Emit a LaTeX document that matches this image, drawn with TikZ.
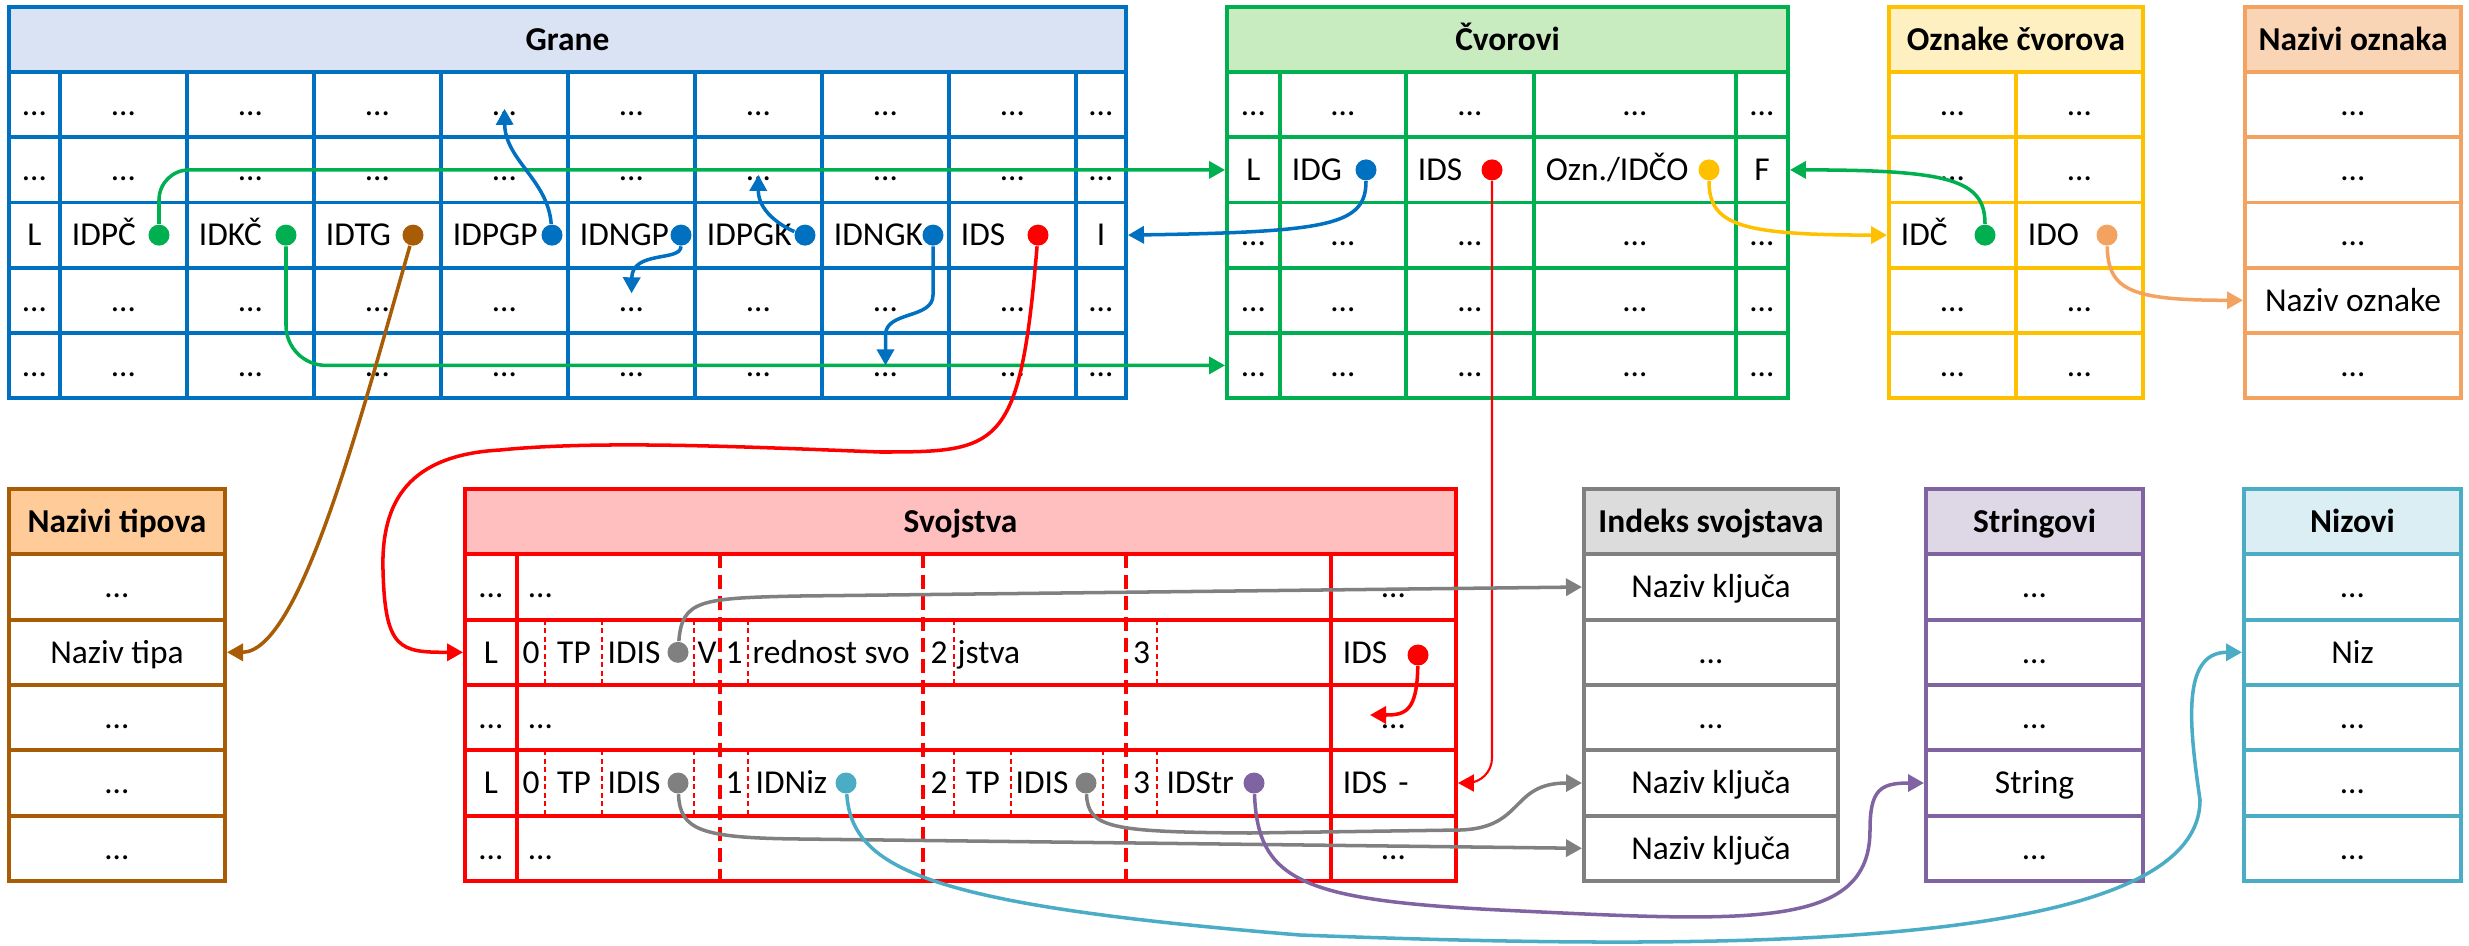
\documentclass[tikz,border=0pt]{standalone}
\usepackage{fontspec}
\setmainfont{Carlito}
\usetikzlibrary{arrows.meta}

\definecolor{gblue}{HTML}{0070C0}
\definecolor{gbluefill}{HTML}{DAE3F3}
\definecolor{cgreen}{HTML}{00B050}
\definecolor{cgreenfill}{HTML}{C8EBC0}
\definecolor{oyellow}{HTML}{FFC000}
\definecolor{oyellowfill}{HTML}{FFF0C2}
\definecolor{norange}{HTML}{F4A25F}
\definecolor{norangefill}{HTML}{FAD5B5}
\definecolor{tbrown}{HTML}{A85C05}
\definecolor{tbrownfill}{HTML}{FFCC99}
\definecolor{sred}{HTML}{FF0000}
\definecolor{sredfill}{HTML}{FFBFBF}
\definecolor{igrey}{HTML}{808080}
\definecolor{igreyfill}{HTML}{DCDCDC}
\definecolor{spurple}{HTML}{8064A2}
\definecolor{spurplefill}{HTML}{DED8E6}
\definecolor{ncyan}{HTML}{4BACC6}
\definecolor{ncyanfill}{HTML}{DBEEF4}
\newcommand{\tabfont}{\fontsize{9.5pt}{11.5pt}\selectfont}

\begin{document}
\begin{tikzpicture}[x=0.01cm,y=-0.01cm,font=\tabfont]
\tikzset{
  cell/.style={draw=#1,line width=1.1pt,minimum height=6.52mm,inner sep=0pt,text height=8.3pt,text depth=2.2pt},
  head/.style={cell=#1,font=\tabfont\bfseries},
  ltxt/.style={text width=#1,align=left},
  idcell/.style={minimum width=12.7mm,ltxt=10.3mm},
  stxt/.style={inner sep=0pt,text height=8.3pt,text depth=2.2pt},
  dot/.style={circle,fill=#1,inner sep=0pt,minimum size=2.1mm},
  link/.style={draw=#1,line width=1pt,-{Triangle[length=1.6mm,width=1.7mm]}},
  longdash/.style={sred,line width=1.1pt,dash pattern=on 1.4mm off 0.7mm},
  shortdash/.style={sred,line width=0.6pt,dash pattern=on 0.5mm off 0.35mm}
}
\useasboundingbox (0,0) rectangle (2469,945);

% Grane
\node[head=gblue,fill=gbluefill,minimum width=111.7mm] (grane) at (567.5,39.6) {Grane};
\foreach \r/\y in {1/104.8,2/169.9,4/300.3,5/365.4}{
  \node[cell=gblue,minimum width=5.1mm] (g\r0) at (34.5,\y) {\dots};
  \foreach \c/\x in {1/123.5,2/250.5,3/377.5,4/504.5,5/631.5,6/758.5,7/885.5,8/1012.5}
    \node[cell=gblue,minimum width=12.7mm] (g\r\c) at (\x,\y) {\dots};
  \node[cell=gblue,minimum width=5mm] (g\r9) at (1101,\y) {\dots};
}
\node[cell=gblue,minimum width=5.1mm] (g30) at (34.5,235.1) {L};
\node[cell=gblue,idcell] (g31) at (123.5,235.1) {IDPČ};
\node[cell=gblue,idcell] (g32) at (250.5,235.1) {IDKČ};
\node[cell=gblue,idcell] (g33) at (377.5,235.1) {IDTG};
\node[cell=gblue,idcell] (g34) at (504.5,235.1) {IDPGP};
\node[cell=gblue,idcell] (g35) at (631.5,235.1) {IDNGP};
\node[cell=gblue,idcell] (g36) at (758.5,235.1) {IDPGK};
\node[cell=gblue,idcell] (g37) at (885.5,235.1) {IDNGK};
\node[cell=gblue,idcell] (g38) at (1012.5,235.1) {IDS};
\node[cell=gblue,minimum width=5mm] (g39) at (1101,235.1) {I};

% Cvorovi
\node[head=cgreen,fill=cgreenfill,minimum width=56.1mm] (cvorovi) at (1507.5,39.6) {Čvorovi};
\foreach \r/\y in {1/104.8,3/235.1,4/300.3,5/365.4}{
  \node[cell=cgreen,minimum width=5.3mm] (c\r0) at (1253.5,\y) {\dots};
  \node[cell=cgreen,minimum width=12.6mm] (c\r1) at (1343,\y) {\dots};
  \node[cell=cgreen,minimum width=12.8mm] (c\r2) at (1470,\y) {\dots};
  \node[cell=cgreen,minimum width=20.2mm] (c\r3) at (1635,\y) {\dots};
  \node[cell=cgreen,minimum width=5.2mm] (c\r4) at (1762,\y) {\dots};
}
\node[cell=cgreen,minimum width=5.3mm] (c20) at (1253.5,169.9) {L};
\node[cell=cgreen,minimum width=12.6mm,ltxt=10.2mm] (c21) at (1343,169.9) {IDG};
\node[cell=cgreen,minimum width=12.8mm,ltxt=10.4mm] (c22) at (1470,169.9) {IDS};
\node[cell=cgreen,minimum width=20.2mm,ltxt=17.8mm] (c23) at (1635,169.9) {Ozn./IDČO};
\node[cell=cgreen,minimum width=5.2mm] (c24) at (1762,169.9) {F};

% Oznake cvorova
\node[head=oyellow,fill=oyellowfill,minimum width=25.4mm] (oznake) at (2016,39.6) {Oznake čvorova};
\foreach \r/\y in {1/104.8,2/169.9,4/300.3,5/365.4}{
  \node[cell=oyellow,minimum width=12.7mm] (o\r0) at (1952.5,\y) {\dots};
  \node[cell=oyellow,minimum width=12.7mm] (o\r1) at (2079.5,\y) {\dots};
}
\node[cell=oyellow,idcell] (o30) at (1952.5,235.1) {IDČ};
\node[cell=oyellow,idcell] (o31) at (2079.5,235.1) {IDO};

% Nazivi oznaka
\node[head=norange,fill=norangefill,minimum width=21.6mm] (nazivioz) at (2353,39.6) {Nazivi oznaka};
\foreach \r/\y/\t in {1/104.8/\dots,2/169.9/\dots,3/235.1/\dots,4/300.3/Naziv oznake,5/365.4/\dots}
  \node[cell=norange,minimum width=21.6mm] (no\r) at (2353,\y) {\t};

% Nazivi tipova
\node[head=tbrown,fill=tbrownfill,minimum width=21.6mm] (nazivitip) at (117,521.7) {Nazivi tipova};
\foreach \r/\y/\t in {1/587/\dots,2/652.3/Naziv tipa,3/717.7/\dots,4/783/\dots,5/848.3/\dots}
  \node[cell=tbrown,minimum width=21.6mm] (nt\r) at (117,\y) {\t};

% Svojstva
\node[head=sred,fill=sredfill,minimum width=99.1mm] (svojstva) at (960.5,521.7) {Svojstva};
\foreach \r/\y in {1/587,3/717.7,5/848.3}{
  \node[cell=sred,minimum width=5.2mm] (sa\r) at (491,\y) {\dots};
  \node[cell=sred,minimum width=81.4mm,ltxt=79mm] (sm\r) at (924,\y) {\dots};
  \node[cell=sred,minimum width=12.5mm] (sz\r) at (1393.5,\y) {\dots};
}
\node[cell=sred,minimum width=5.2mm] (sa2) at (491,652.3) {L};
\node[cell=sred,minimum width=81.4mm] (sm2) at (924,652.3) {};
\node[cell=sred,minimum width=12.5mm,ltxt=10.1mm] (sz2) at (1393.5,652.3) {IDS};
\node[cell=sred,minimum width=5.2mm] (sa4) at (491,783) {L};
\node[cell=sred,minimum width=81.4mm] (sm4) at (924,783) {};
\node[cell=sred,minimum width=12.5mm,ltxt=10.1mm] (sz4) at (1393.5,783) {IDS -};
\foreach \x in {720,923,1126} \draw[longdash] (\x,554.3) -- (\x,881);
\foreach \x in {545,602,694,748,954,1157} \draw[shortdash] (\x,619.7) -- (\x,685);
\foreach \x in {545,602,694,748,954,1011,1103,1157} \draw[shortdash] (\x,750.3) -- (\x,815.7);
\node[stxt] (s_0_a) at (531,652.3) {0};
\node[stxt] (s_tp_a) at (574,652.3) {TP};
\node[stxt,anchor=west] (s_idis_a) at (607,652.3) {IDIS};
\node[stxt] (s_v_a) at (707,652.3) {V};
\node[stxt] (s_1_a) at (734,652.3) {1};
\node[stxt,anchor=west] (s_red_a) at (752,652.3) {rednost svo};
\node[stxt] (s_2_a) at (939,652.3) {2};
\node[stxt,anchor=west] (s_jst_a) at (957,652.3) {jstva};
\node[stxt] (s_3_a) at (1141.5,652.3) {3};
\node[stxt] (s_0_b) at (531,783) {0};
\node[stxt] (s_tp_b) at (574,783) {TP};
\node[stxt,anchor=west] (s_idis_b) at (607,783) {IDIS};
\node[stxt] (s_1_b) at (734,783) {1};
\node[stxt,anchor=west] (s_niz_b) at (755,783) {IDNiz};
\node[stxt] (s_2_b) at (939,783) {2};
\node[stxt] (s_tp_c) at (983,783) {TP};
\node[stxt,anchor=west] (s_idis_c) at (1015,783) {IDIS};
\node[stxt] (s_3_b) at (1141.5,783) {3};
\node[stxt,anchor=west] (s_str_b) at (1166,783) {IDStr};

% Indeks svojstava, Stringovi, Nizovi
\node[head=igrey,fill=igreyfill,minimum width=25.4mm] (indeks) at (1711,521.7) {Indeks svojstava};
\foreach \r/\y/\t in {1/587/Naziv ključa,2/652.3/\dots,3/717.7/\dots,4/783/Naziv ključa,5/848.3/Naziv ključa}
  \node[cell=igrey,minimum width=25.4mm] (is\r) at (1711,\y) {\t};
\node[head=spurple,fill=spurplefill,minimum width=21.7mm] (stringovi) at (2034.5,521.7) {Stringovi};
\foreach \r/\y/\t in {1/587/\dots,2/652.3/\dots,3/717.7/\dots,4/783/String,5/848.3/\dots}
  \node[cell=spurple,minimum width=21.7mm] (st\r) at (2034.5,\y) {\t};
\node[head=ncyan,fill=ncyanfill,minimum width=21.7mm] (nizovi) at (2352.5,521.7) {Nizovi};
\foreach \r/\y/\t in {1/587/\dots,2/652.3/Niz,3/717.7/\dots,4/783/\dots,5/848.3/\dots}
  \node[cell=ncyan,minimum width=21.7mm] (nz\r) at (2352.5,\y) {\t};

% pointer dots
\node[dot=cgreen] (d_pc) at (159,235.1) {};
\node[dot=cgreen] (d_kc) at (286,235.1) {};
\node[dot=tbrown] (d_tg) at (413,235.1) {};
\node[dot=gblue] (d_pgp) at (552,235.1) {};
\node[dot=gblue] (d_ngp) at (681,235.1) {};
\node[dot=gblue] (d_pgk) at (805,235.1) {};
\node[dot=gblue] (d_ngk) at (933,235.1) {};
\node[dot=sred] (d_ids) at (1038,235.1) {};
\node[dot=gblue] (d_idg) at (1366,169.9) {};
\node[dot=sred] (d_cids) at (1492,169.9) {};
\node[dot=oyellow] (d_ozn) at (1709,169.9) {};
\node[dot=cgreen] (d_idc) at (1985,235.1) {};
\node[dot=norange] (d_ido) at (2107,235.1) {};
\node[dot=igrey] (d_idis1) at (678,652.3) {};
\node[dot=sred] (d_sids) at (1418,655) {};
\node[dot=igrey] (d_idis2) at (678,783) {};
\node[dot=ncyan] (d_niz) at (846,783) {};
\node[dot=igrey] (d_idis3) at (1086,783) {};
\node[dot=spurple] (d_str) at (1254,783) {};
\coordinate (sz3_in) at (1370,715);

% links
\draw[link=cgreen,rounded corners=3mm] (d_pc) |- (c20.west);
\draw[link=cgreen,rounded corners=4mm] (d_kc) |- (c50.west);
\draw[link=tbrown] (d_tg) .. controls (360,420) and (300,652.3) .. (nt2.east);
\draw[link=gblue,shorten >=0.4mm] (d_pgp) .. controls (548,180) and (505,160) .. (g14.center);
\draw[link=gblue,shorten >=0.7mm] (d_ngp) .. controls (681,262) and (632,250) .. (g45.center);
\draw[link=gblue,shorten >=0.5mm] (d_pgk) .. controls (790,230) and (758,215) .. (g26.center);
\draw[link=gblue] (d_ngk) -- (933,295) to[out=-90,in=90] (885.5,335) -- (g57.center);
\draw[link=sred] (d_ids) .. controls (1020,450) and (1000,452) .. (880,452)
  .. controls (750,447) and (600,440) .. (500,450)
  .. controls (410,455) and (381,500) .. (383,570)
  .. controls (385,650) and (400,652.3) .. (sa2.west);
\draw[link=gblue] (d_idg) .. controls (1366,225) and (1330,232) .. (g39.east);
\draw[link=sred,line width=0.6pt,rounded corners=2.5mm] (d_cids) |- (sz4.east);
\draw[link=oyellow] (d_ozn) .. controls (1709,225) and (1740,235.1) .. (o30.west);
\draw[link=cgreen] (d_idc) .. controls (1985,180) and (1950,169.9) .. (c24.east);
\draw[link=norange] (d_ido) .. controls (2108,290) and (2130,300.3) .. (no4.west);
\draw[link=sred] (d_sids) .. controls (1417,712) and (1405,715) .. (sz3_in);
\draw[link=igrey] (d_idis1) .. controls (682,600) and (700,598) .. (800,596) -- (is1.west);
\draw[link=igrey] (d_idis2) .. controls (680,830) and (700,838) .. (800,839) -- (is5.west);
\draw[link=igrey] (d_idis3) .. controls (1088,828) and (1110,832) .. (1250,833) -- (1460,830)
  .. controls (1525,828) and (1510,783) .. (is4.west);
\draw[link=ncyan] (d_niz) .. controls (852,870) and (930,905) .. (1300,935)
  .. controls (1700,950) and (2200,955) .. (2200,800)
  .. controls (2190,730) and (2180,652.3) .. (nz2.west);
\draw[link=spurple] (d_str) .. controls (1258,880) and (1300,900) .. (1500,910)
  .. controls (1750,922) and (1870,930) .. (1870,830)
  .. controls (1870,790) and (1880,783) .. (st4.west);
\end{tikzpicture}
\end{document}
